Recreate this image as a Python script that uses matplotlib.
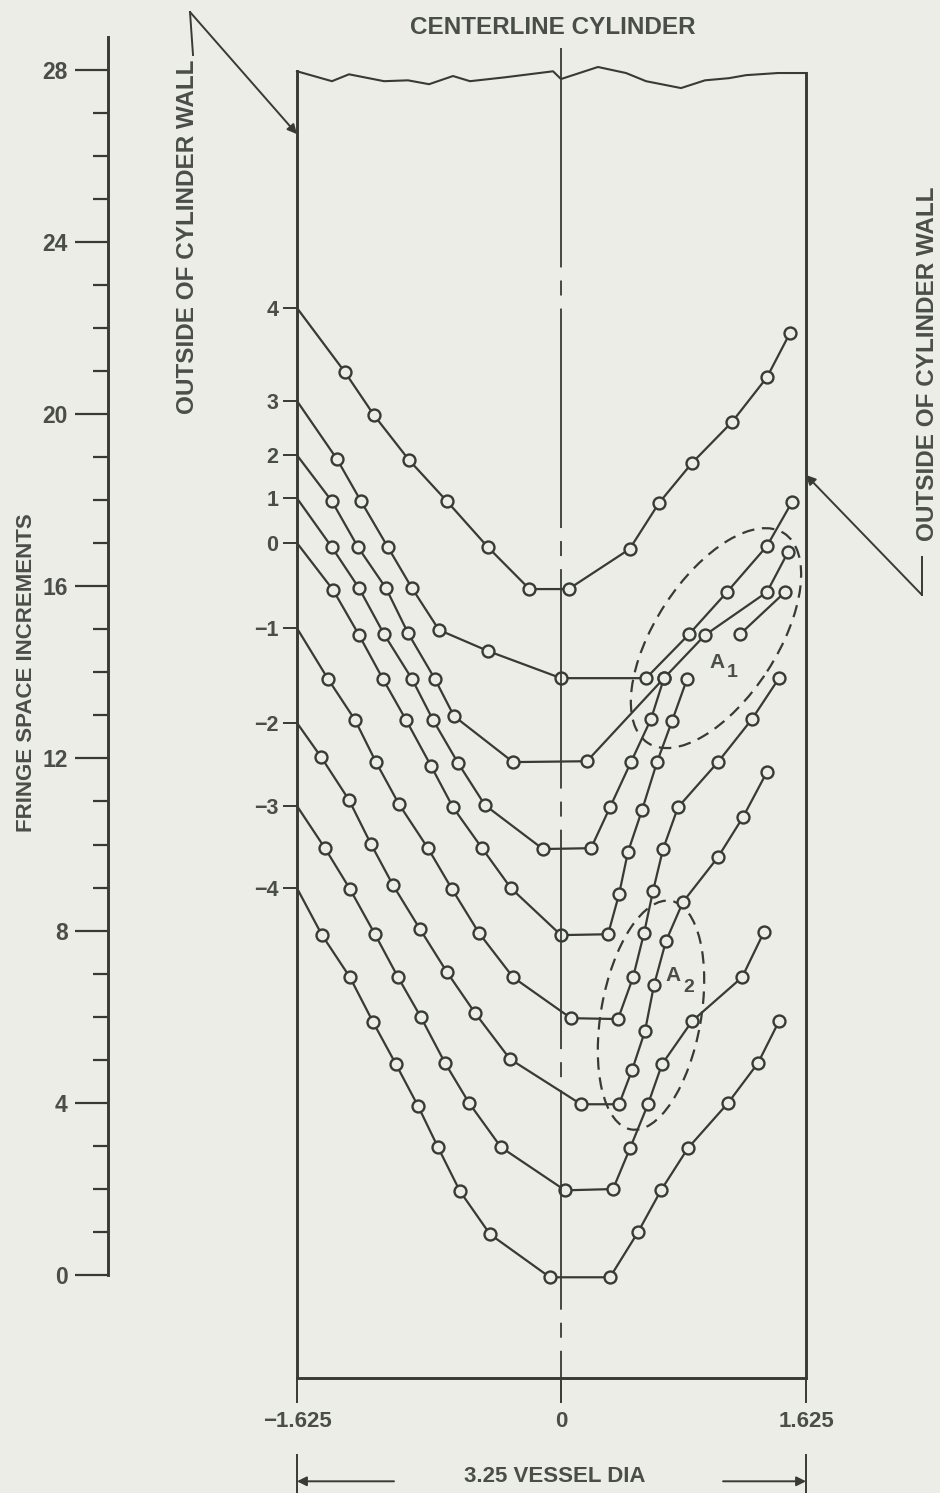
import numpy as np
import matplotlib.pyplot as plt
import matplotlib.transforms as mtransforms
from matplotlib.patches import Ellipse
from matplotlib.lines import Line2D

plt.rcParams['font.family'] = ['Liberation Sans', 'DejaVu Sans']
plt.rcParams['font.weight'] = 'bold'
plt.rcParams['lines.scale_dashes'] = False

bg = '#ecede6'
ink = '#373a35'
txt = '#4a4e48'

## fringe number written at the left wall, and where each curve meets the wall
wall_labels = ['4', '3', '2', '1', '0', '\u22121', '\u22122', '\u22123', '\u22124']
wall_values = [22.47, 20.31, 19.05, 18.05, 17.01, 15.03, 12.83, 10.90, 8.99]

## fringe curves (radial position, fringe space increments); first point = wall
x_p4 = [-1.625, -1.330, -1.151, -0.936, -0.702, -0.449, -0.194, 0.050, 0.455, 0.650, 0.869, 1.134, 1.366, 1.519]
y_p4 = [22.47, 20.98, 19.98, 18.94, 17.98, 16.91, 15.94, 15.94, 16.87, 17.94, 18.87, 19.82, 20.86, 21.89]

x_p3 = [-1.625, -1.379, -1.231, -1.065, -0.917, -0.751, -0.449, 0.0, 0.564, 0.849, 1.101, 1.366, 1.532]
y_p3 = [20.31, 18.96, 17.98, 16.91, 15.96, 14.99, 14.50, 13.87, 13.87, 14.89, 15.87, 16.94, 17.96]

x_p2 = [-1.625, -1.410, -1.249, -1.077, -0.942, -0.776, -0.659, -0.295, 0.172, 0.683, 0.955, 1.366, 1.506]
y_p2 = [19.05, 17.98, 16.91, 15.96, 14.92, 13.85, 12.99, 11.92, 11.94, 13.87, 14.87, 15.87, 16.80]

x_p1 = [-1.625, -1.410, -1.243, -1.089, -0.917, -0.788, -0.634, -0.468, -0.111, 0.199, 0.325, 0.464, 0.597, 0.683]
y_p1 = [18.05, 16.91, 15.96, 14.89, 13.85, 12.90, 11.90, 10.92, 9.90, 9.92, 10.87, 11.92, 12.92, 13.87]

x_0 = [-1.625, -1.403, -1.243, -1.096, -0.954, -0.800, -0.665, -0.486, -0.308, 0.0, 0.312, 0.385, 0.444, 0.537, 0.637, 0.736, 0.836]
y_0 = [17.01, 15.92, 14.87, 13.85, 12.90, 11.83, 10.87, 9.92, 8.99, 7.90, 7.92, 8.85, 9.83, 10.80, 11.92, 12.87, 13.85]

x_m1 = [-1.625, -1.434, -1.268, -1.139, -0.997, -0.819, -0.671, -0.505, -0.295, 0.066, 0.378, 0.478, 0.551, 0.610, 0.677, 0.776, 1.041, 1.267, 1.446]
y_m1 = [15.03, 13.85, 12.90, 11.92, 10.94, 9.92, 8.97, 7.95, 6.92, 5.97, 5.95, 6.92, 7.95, 8.92, 9.90, 10.87, 11.92, 12.92, 13.87]

x_m2 = [-1.625, -1.477, -1.305, -1.169, -1.034, -0.868, -0.702, -0.529, -0.314, 0.133, 0.385, 0.471, 0.557, 0.617, 0.696, 0.809, 1.041, 1.207, 1.366]
y_m2 = [12.83, 12.04, 11.04, 10.01, 9.06, 8.04, 7.04, 6.09, 5.02, 3.97, 3.97, 4.76, 5.67, 6.74, 7.76, 8.67, 9.71, 10.64, 11.69]

x_m3 = [-1.625, -1.453, -1.299, -1.145, -1.003, -0.862, -0.714, -0.566, -0.369, 0.027, 0.345, 0.458, 0.577, 0.670, 0.869, 1.201, 1.346]
y_m3 = [10.90, 9.92, 8.97, 7.92, 6.92, 5.99, 4.93, 4.00, 2.97, 1.97, 2.00, 2.95, 3.97, 4.90, 5.90, 6.92, 7.97]

x_m4 = [-1.625, -1.471, -1.299, -1.157, -1.016, -0.880, -0.757, -0.622, -0.437, -0.068, 0.325, 0.511, 0.663, 0.842, 1.108, 1.307, 1.446]
y_m4 = [8.99, 7.90, 6.92, 5.88, 4.90, 3.93, 2.97, 1.95, 0.95, -0.05, -0.05, 1.00, 1.97, 2.95, 4.00, 4.93, 5.90]

## loose piece inside region A1 (no wall point)
x_a1 = [1.187, 1.486]
y_a1 = [14.89, 15.87]

## free surface at the top of the cylinder
surface_x = [-1.625, -1.410, -1.305, -1.089, -0.942, -0.812, -0.665, -0.560, -0.345, -0.049, 0.0,
             0.245, 0.431, 0.564, 0.796, 0.955, 1.114, 1.227, 1.439, 1.625]
surface_y = [27.97, 27.74, 27.90, 27.74, 27.76, 27.67, 27.86, 27.74, 27.83, 27.97, 27.79,
             28.07, 27.93, 27.74, 27.58, 27.76, 27.81, 27.88, 27.93, 27.93]

x_ticks = [-1.625, 0, 1.625]
x_ticklabels = ['\u22121.625', '0', '1.625']
fringe_major = list(range(0, 29, 4))
fringe_minor = list(range(0, 29))

curves = [(x_p4, y_p4), (x_p3, y_p3), (x_p2, y_p2), (x_p1, y_p1), (x_0, y_0),
          (x_m1, y_m1), (x_m2, y_m2), (x_m3, y_m3), (x_m4, y_m4)]

box_bottom = -2.39

## the drawing is a bit wider left of the centerline than right of it
half_ratio = 264 / 245
def fwd(x):
    x = np.asarray(x, dtype=float)
    return np.where(x < 0, x * half_ratio, x)
def inv(u):
    u = np.asarray(u, dtype=float)
    return np.where(u < 0, u / half_ratio, u)

fig = plt.figure(figsize=(9.4, 14.93), dpi=100, facecolor=bg)
W, H = 940, 1493

ax = fig.add_axes([297 / W, 1 - 1378 / H, 509 / W, 1308 / H])
ax.set_facecolor(bg)
ax.set_xscale('function', functions=(fwd, inv))
ax.set_xlim(-1.625, 1.625)
ax.set_ylim(box_bottom, 28.0)

for side in ['left', 'right', 'bottom']:
    ax.spines[side].set_linewidth(2.1)
    ax.spines[side].set_color(ink)
ax.spines['top'].set_visible(False)
ax.spines['left'].set_bounds(box_bottom, surface_y[0])
ax.spines['right'].set_bounds(box_bottom, surface_y[-1])

ax.set_yticks(wall_values, labels=wall_labels)
ax.tick_params(axis='y', left=True, right=False, direction='out', length=10, width=1.4,
               pad=3.5, labelsize=15.5, colors=ink, labelcolor=txt)
ax.set_xticks(x_ticks, labels=x_ticklabels)
ax.tick_params(axis='x', bottom=True, direction='out', length=18, width=1.4,
               pad=6, labelsize=16, colors=ink, labelcolor=txt)
ax.minorticks_off()

ax.plot(surface_x, surface_y, color=ink, lw=1.5, clip_on=False)

for cx, cy in curves + [(x_a1, y_a1)]:
    ax.plot(cx, cy, color=ink, lw=1.6, zorder=3)
for cx, cy in curves:
    ax.plot(cx[1:], cy[1:], ls='none', marker='o', ms=8.6, mew=1.7, mec=ink, mfc=bg, zorder=4)
ax.plot(x_a1, y_a1, ls='none', marker='o', ms=8.6, mew=1.7, mec=ink, mfc=bg, zorder=4)

## centerline (long dash / short dash)
ax.plot([0, 0], [28.51, box_bottom], color=ink, lw=1.3, dashes=[158, 9.4, 10.8, 9.4],
        clip_on=False, zorder=5)

## dashed regions A1 and A2
for (ex, ey, w, h, ang) in [(1.028, 14.80, 2.50, 1.22, 57), (0.597, 6.04, 2.32, 1.00, 80)]:
    tr = fig.dpi_scale_trans + mtransforms.ScaledTranslation(ex, ey, ax.transData)
    ax.add_patch(Ellipse((0, 0), w, h, angle=ang, transform=tr, fill=False,
                         ec=ink, lw=1.6, ls=(0, (9, 5.5)), zorder=2))
ax.text(1.035, 14.24, 'A', fontsize=15, color=txt, ha='center', va='center', zorder=6)
ax.text(1.134, 14.00, '1', fontsize=14, color=txt, ha='center', va='center', zorder=6)
ax.text(0.743, 6.97, 'A', fontsize=15, color=txt, ha='center', va='center', zorder=6)
ax.text(0.849, 6.69, '2', fontsize=14, color=txt, ha='center', va='center', zorder=6)

## fringe space scale on the far left
ax2 = fig.add_axes([108 / W, 1 - 1275 / H, 1 / W, 1238 / H])
ax2.patch.set_visible(False)
ax2.set_ylim(0, 28.76)
for side in ['right', 'top', 'bottom']:
    ax2.spines[side].set_visible(False)
ax2.spines['left'].set_linewidth(2.1)
ax2.spines['left'].set_color(ink)
ax2.set_xticks([])
ax2.set_yticks(fringe_major)
ax2.set_yticks(fringe_minor, minor=True)
ax2.tick_params(axis='y', which='major', direction='out', length=24, width=1.6, pad=5,
                labelsize=16.5, colors=ink, labelcolor=txt)
ax2.tick_params(axis='y', which='minor', direction='out', length=11, width=1.6, colors=ink)

## texts and leaders
fig.text(553 / W, 1 - 27 / H, 'CENTERLINE CYLINDER', ha='center', va='center',
         fontsize=17.5, color=txt)
fig.text(27 / W, 1 - 673 / H, 'FRINGE SPACE INCREMENTS', rotation=90, ha='center',
         va='center', fontsize=16, color=txt)
fig.text(188 / W, 1 - 237 / H, 'OUTSIDE OF CYLINDER WALL', rotation=90, ha='center',
         va='center', fontsize=17.5, color=txt)
fig.text(927 / W, 1 - 364 / H, 'OUTSIDE OF CYLINDER WALL', rotation=90, ha='center',
         va='center', fontsize=17.5, color=txt)

arrow = dict(arrowstyle='-|>', color=ink, lw=1.4, mutation_scale=14, shrinkA=0, shrinkB=0)
ax.annotate('', xy=(-1.625, 26.51), xytext=(190 / W, 1 - 12 / H),
            textcoords='figure fraction', arrowprops=arrow, annotation_clip=False)
fig.add_artist(Line2D([193 / W, 190 / W], [1 - 55 / H, 1 - 12 / H], color=ink, lw=1.4))
ax.annotate('', xy=(1.625, 18.59), xytext=(922 / W, 1 - 595 / H),
            textcoords='figure fraction', arrowprops=arrow, annotation_clip=False)
fig.add_artist(Line2D([922 / W, 922 / W], [1 - 557 / H, 1 - 595 / H], color=ink, lw=1.4))

## vessel diameter dimension
for xw in [-1.625, 1.625]:
    ax.plot([xw, xw], [-4.18, -5.2], color=ink, lw=1.4, clip_on=False)
ax.annotate('', xy=(-1.625, -4.79), xytext=(-1.028, -4.79), arrowprops=arrow,
            annotation_clip=False)
ax.annotate('', xy=(1.625, -4.79), xytext=(1.075, -4.79), arrowprops=arrow,
            annotation_clip=False)
ax.text(-0.037, -4.69, '3.25 VESSEL DIA', ha='center', va='center', fontsize=16,
        color=txt, clip_on=False)

fig.savefig('out.png', dpi=100, facecolor=bg)
